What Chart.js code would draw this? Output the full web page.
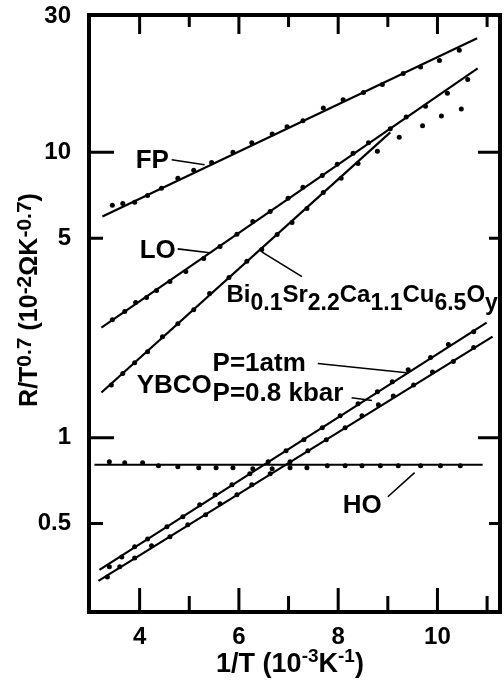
<!DOCTYPE html>
<html>
<head>
<meta charset="utf-8">
<script src="https://cdn.jsdelivr.net/npm/chart.js@4.4.0/dist/chart.umd.min.js"></script>
<style>
  html,body{margin:0;padding:0;background:#fff}
  #wrap{width:504px;height:683px;position:relative}
</style>
</head>
<body>
<div id="wrap"><canvas id="c"></canvas></div>
<script>
/* R/T^0.7 vs 1/T, log scale */
const FONT = '"Liberation Sans", Arial, Helvetica, sans-serif';
const W = 'bold ';

const xTicks = [4, 5, 6, 7, 8, 9, 10, 11];
const xLabelled = [4, 6, 8, 10];
const yTicks = [0.5, 1, 5, 10, 30];

// FP
const fpX = [3.45,3.66,3.90,4.16,4.44,4.77,5.09,5.45,5.88,6.26,6.67,6.97,7.29,7.70,8.10,8.51,8.89,9.31,9.66,10.04,10.44];
const fpY = [6.52,6.62,6.68,7.06,7.48,8.11,8.65,9.22,10.0,10.8,11.6,12.3,12.9,14.3,15.3,16.2,17.3,18.9,19.9,21.0,22.8];
const fpFitX = [3.25, 10.8];
const fpFitY = [5.96, 25.1];

// LO
const loX = [3.45,3.70,3.92,4.14,4.34,4.61,4.93,5.29,5.62,5.96,6.28,6.63,6.99,7.29,7.68,7.98,8.30,8.61,9.05,9.37,9.76,10.20,10.61];
const loY = [2.59,2.77,2.98,3.10,3.28,3.53,3.82,4.25,4.68,5.16,5.73,6.21,6.90,7.54,8.30,9.08,9.92,10.8,12.1,13.3,14.5,16.1,18.0];
const loFitX = [3.23, 10.81];
const loFitY = [2.43, 19.7];

// Bi0.1Sr2.2Ca1.1Cu6.5Oy
const biX = [3.43,3.66,3.90,4.16,4.46,4.77,5.09,5.41,5.80,6.16,6.46,6.77,7.07,7.37,7.70,8.06,8.40,8.79,9.23,9.70,10.08,10.48];
const biY = [1.53,1.68,1.83,2.00,2.26,2.51,2.81,3.20,3.64,4.15,4.57,5.15,5.68,6.36,7.24,8.11,9.15,10.1,11.3,12.4,13.4,14.2];
const biFitX = [3.23, 9.05];
const biFitY = [1.44, 11.75];

// YBCO P=1atm
const atmX = [3.39,3.64,3.90,4.16,4.55,4.87,5.21,5.52,5.86,6.22,6.59,6.95,7.31,7.68,8.04,8.40,8.79,9.09,9.41,9.86,10.22,10.73];
const atmY = [0.353,0.382,0.415,0.442,0.487,0.528,0.582,0.631,0.684,0.748,0.824,0.900,0.984,1.084,1.195,1.316,1.45,1.57,1.73,1.91,2.12,2.35];
const atmFitX = [3.19, 10.99];
const atmFitY = [0.344, 2.53];

// YBCO P=0.8 kbar
const kbX = [3.35,3.60,3.90,4.24,4.61,4.97,5.33,5.62,5.96,6.26,6.63,7.03,7.39,7.76,8.14,8.48,8.81,9.11,9.52,9.90,10.32,10.73];
const kbY = [0.325,0.353,0.379,0.418,0.450,0.495,0.537,0.587,0.631,0.684,0.748,0.824,0.900,0.984,1.084,1.195,1.305,1.40,1.53,1.70,1.85,2.07];
const kbFitX = [3.17, 11.11];
const kbFitY = [0.315, 2.26];

// HO
const hoX = [3.39,3.70,4.06,4.38,4.77,5.19,5.54,5.88,6.28,6.67,7.03,7.37,7.78,8.14,8.48,8.85,9.21,9.66,10.06,10.46];
const hoY = [0.824,0.817,0.817,0.798,0.791,0.785,0.785,0.785,0.778,0.778,0.785,0.785,0.798,0.798,0.798,0.798,0.798,0.798,0.798,0.798];
const hoFitX = [3.09, 10.91];
const hoFitY = [0.804, 0.804];

// labels in data coords (left, baseline)
const labels = [
  {x:3.92, y:8.83, parts:[['FP']]},
  {x:4.00, y:4.27, parts:[['LO']]},
  {x:5.75, y:3.00, parts:[['Bi'],['0.1','sub'],['Sr'],['2.2','sub'],['Ca'],['1.1','sub'],['Cu'],['6.5','sub'],['O'],['y','sub']], big:24, small:23},
  {x:3.94, y:1.44, parts:[['YBCO']]},
  {x:5.47, y:1.72, parts:[['P=1atm']]},
  {x:5.47, y:1.35, parts:[['P=0.8 kbar']]},
  {x:8.09, y:0.546, parts:[['HO']]},
];
const pointers = [
  [4.645, 9.42, 5.31, 9.05],
  [4.766, 4.59, 5.41, 4.45],
  [6.46, 4.48, 7.27, 3.67],
  [7.59, 1.82, 9.38, 1.69],
  [8.27, 1.38, 8.68, 1.35],
  [9.00, 0.621, 9.54, 0.754],
];

const pts = (xs, ys) => xs.map((x, i) => ({x, y: ys[i]}));
const dots = (xs, ys) => ({data: pts(xs, ys), showLine: false, pointRadius: 2.5, pointBackgroundColor: '#000', pointBorderWidth: 0});
const fit = (xs, ys) => ({data: pts(xs, ys), showLine: true, borderColor: '#000', borderWidth: 2.2, pointRadius: 0});

function drawRich(ctx, parts, x, y, big, small, rise, center){
  const segs = parts.map(([t, k]) => ({t, k: k || 'n'}));
  const fontOf = k => W + (k === 'n' ? big : small) + 'px ' + FONT;
  let w = 0;
  segs.forEach(s => { ctx.font = fontOf(s.k); s.w = ctx.measureText(s.t).width; w += s.w; });
  let cx = center ? x - w / 2 : x;
  segs.forEach(s => {
    ctx.font = fontOf(s.k);
    const dy = s.k === 'sup' ? -rise : s.k === 'sub' ? rise : 0;
    ctx.fillText(s.t, cx, y + dy);
    cx += s.w;
  });
}

const decor = {
  id: 'decor',
  afterDatasetsDraw(chart){
    const {ctx, scales:{x, y}} = chart;
    ctx.save();
    ctx.fillStyle = '#000'; ctx.strokeStyle = '#000';
    ctx.textAlign = 'left'; ctx.textBaseline = 'alphabetic';
    labels.forEach(l => drawRich(ctx, l.parts, x.getPixelForValue(l.x), y.getPixelForValue(l.y), l.big || 26, l.small || 22, 8, false));
    ctx.lineWidth = 1.6;
    pointers.forEach(p => {
      ctx.beginPath();
      ctx.moveTo(x.getPixelForValue(p[0]), y.getPixelForValue(p[1]));
      ctx.lineTo(x.getPixelForValue(p[2]), y.getPixelForValue(p[3]));
      ctx.stroke();
    });
    ctx.restore();
  },
  afterDraw(chart){
    const {ctx, chartArea:a, scales:{x, y}} = chart;
    ctx.save();
    ctx.strokeStyle = '#000'; ctx.fillStyle = '#000';
    ctx.lineWidth = 4;
    ctx.strokeRect(a.left, a.top, a.right - a.left, a.bottom - a.top);
    ctx.lineWidth = 3;
    ctx.beginPath();
    xTicks.forEach(v => {
      const px = x.getPixelForValue(v);
      const major = xLabelled.includes(v);
      ctx.moveTo(px, a.bottom); ctx.lineTo(px, a.bottom - (major ? 24 : 16));
      ctx.moveTo(px, a.top); ctx.lineTo(px, a.top + (major ? 19 : 12));
    });
    yTicks.filter(v => v < 30).forEach(v => {
      const py = y.getPixelForValue(v);
      const dec = v === 1 || v === 10;
      ctx.moveTo(a.left, py); ctx.lineTo(a.left + (dec ? 25 : 14), py);
      ctx.moveTo(a.right, py); ctx.lineTo(a.right - (dec ? 22 : 11), py);
    });
    ctx.stroke();
    // axis titles
    ctx.textAlign = 'left'; ctx.textBaseline = 'alphabetic';
    drawRich(ctx, [['1/T (10'], ['-3','sup'], ['K'], ['-1','sup'], [')']], 290, 672, 27, 19, 10, true);
    ctx.translate(37, 300);
    ctx.rotate(-Math.PI / 2);
    drawRich(ctx, [['R/T'], ['0.7','sup'], [' (10'], ['-2','sup'], ['\u03A9K'], ['-0.7','sup'], [')']], 0, 0, 25, 21, 6, true);
    ctx.restore();
  }
};

new Chart(document.getElementById('c'), {
  type: 'scatter',
  data: {datasets: [
    dots(fpX, fpY), fit(fpFitX, fpFitY),
    dots(loX, loY), fit(loFitX, loFitY),
    dots(biX, biY), fit(biFitX, biFitY),
    dots(atmX, atmY), fit(atmFitX, atmFitY),
    dots(kbX, kbY), fit(kbFitX, kbFitY),
    dots(hoX, hoY), fit(hoFitX, hoFitY),
  ]},
  options: {
    responsive: true, maintainAspectRatio: false, animation: false,
    layout: {padding: {top: 15, right: 0, left: 0, bottom: 0}},
    plugins: {legend: {display: false}, tooltip: {enabled: false}},
    scales: {
      x: {
        type: 'linear', min: 2.98, max: 11.26,
        afterBuildTicks: s => { s.ticks = xTicks.map(v => ({value: v})); },
        afterFit: s => { s.height = 71; },
        ticks: {autoSkip: false, maxRotation: 0, padding: 3, color: '#000',
          font: {family: FONT, size: 24, weight: 'bold'},
          callback: v => xLabelled.includes(v) ? String(v) : ''},
        grid: {display: false}, border: {display: false}
      },
      y: {
        type: 'logarithmic', min: 0.245, max: 30.3,
        afterBuildTicks: s => { s.ticks = yTicks.map(v => ({value: v})); },
        afterFit: s => { s.width = 89; s.paddingTop = 0; s.paddingBottom = 0; },
        ticks: {autoSkip: false, padding: 10, color: '#000',
          font: {family: FONT, size: 24, weight: 'bold', lineHeight: 0.8},
          callback: v => String(v)},
        grid: {display: false}, border: {display: false}
      }
    }
  },
  plugins: [decor]
});
</script>
</body>
</html>
